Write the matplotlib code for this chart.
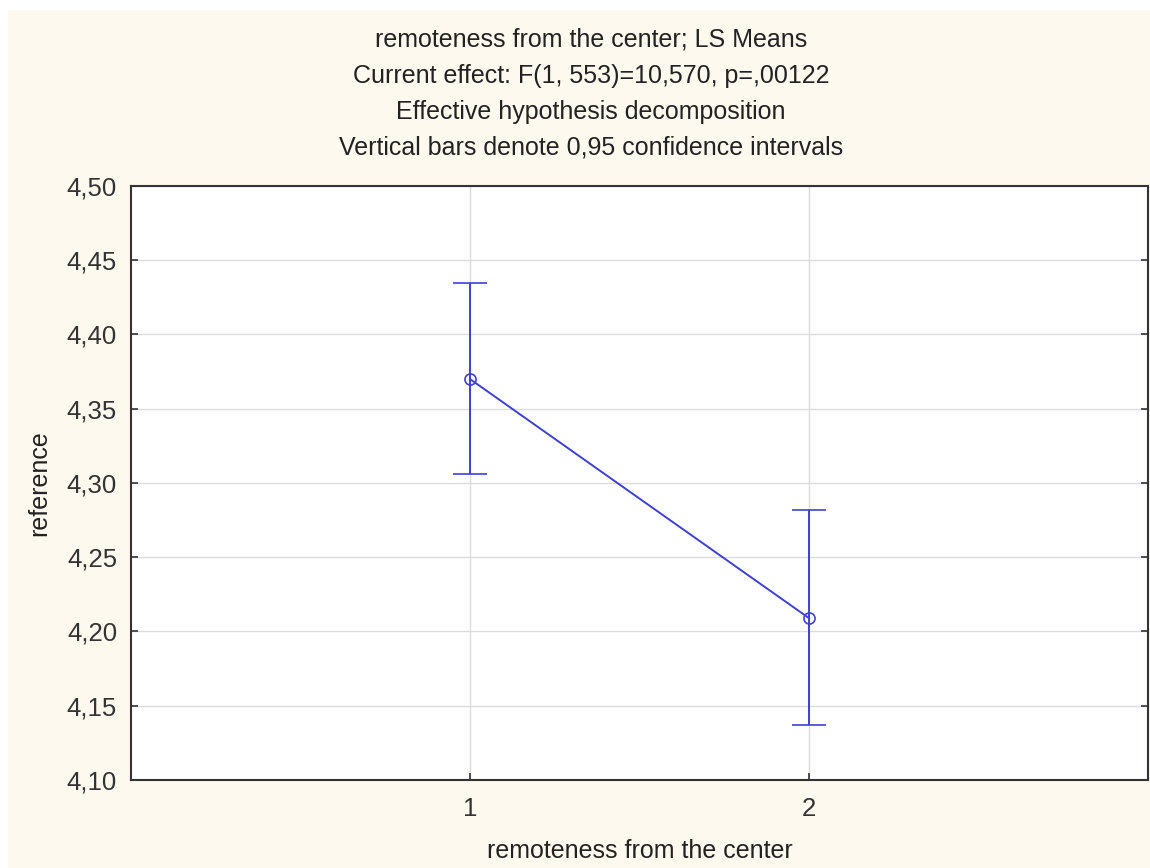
import matplotlib
matplotlib.use("Agg")
import matplotlib.pyplot as plt
from matplotlib.ticker import FuncFormatter, FixedLocator
from matplotlib.patches import Rectangle

# LS means with 0.95 confidence limits
groups = [1, 2]
means = [4.370, 4.209]
ci_upper = [4.435, 4.282]
ci_lower = [4.306, 4.137]

y_ticks = [4.10, 4.15, 4.20, 4.25, 4.30, 4.35, 4.40, 4.45, 4.50]

title_lines = [
    "remoteness from the center; LS Means",
    "Current effect: F(1, 553)=10,570, p=,00122",
    "Effective hypothesis decomposition",
    "Vertical bars denote 0,95 confidence intervals",
]

plt.rcParams['font.family'] = ['Liberation Sans', 'DejaVu Sans']

W, H = 1150, 868
fig = plt.figure(figsize=(W / 100, H / 100), dpi=100, facecolor="white")

# panel background
fig.patches.append(Rectangle((8 / W, 0), 1 - 8 / W, 1 - 10 / H, transform=fig.transFigure,
                             facecolor="#FDF9EE", edgecolor="none", zorder=-10))

ax = fig.add_axes([131 / W, 1 - 780 / H, (1148 - 131) / W, (780 - 186) / H])
ax.set_facecolor("white")

line_color = "#3F3FD6"
yerr = [[m - lo for m, lo in zip(means, ci_lower)],
        [hi - m for m, hi in zip(means, ci_upper)]]
ax.errorbar(groups, means, yerr=yerr, color=line_color, lw=1.4, elinewidth=1.4,
            capsize=12, capthick=1.4, marker="o", markersize=8,
            markerfacecolor="none", markeredgecolor=line_color, markeredgewidth=1.2,
            zorder=3)

ax.set_xlim(0, 3)
ax.set_ylim(4.10, 4.50)
ax.xaxis.set_major_locator(FixedLocator(groups))
ax.yaxis.set_major_locator(FixedLocator(y_ticks))
ax.yaxis.set_major_formatter(FuncFormatter(lambda v, p: f"{v:.2f}".replace(".", ",")))
ax.xaxis.set_major_formatter(FuncFormatter(lambda v, p: f"{int(round(v))}"))

ax.grid(True, color="#DCDCDC", lw=1.0, zorder=0)
ax.set_axisbelow(True)

for s in ax.spines.values():
    s.set_color("#333333")
    s.set_linewidth(1.5)

ax.tick_params(axis="y", which="both", direction="in", length=5, width=1.2,
               left=True, right=True, labelsize=18.5, colors="#333333", pad=10)
ax.tick_params(axis="x", which="both", direction="in", length=5, width=1.2,
               bottom=True, top=False, labelsize=18.5, colors="#333333", pad=12)
for lbl in ax.get_yticklabels() + ax.get_xticklabels():
    lbl.set_color("#333333")

ax.set_xlabel("remoteness from the center", fontsize=18, color="#222222", labelpad=13)
ax.set_ylabel("reference", fontsize=18, color="#222222", labelpad=11)

for i, t in enumerate(title_lines):
    fig.text(591 / W, 1 - (40 + 36 * i) / H, t, ha="center", va="center",
             fontsize=18, color="#222222")

fig.savefig("out.png", dpi=100, facecolor=fig.get_facecolor())
